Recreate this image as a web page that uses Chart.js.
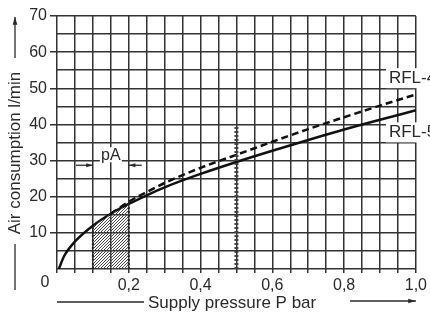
<!DOCTYPE html>
<html>
<head>
<meta charset="utf-8">
<script src="https://cdn.jsdelivr.net/npm/chart.js@4"></script>
<style>
  html, body { margin: 0; padding: 0; background: #fff; }
</style>
</head>
<body>
<canvas id="chart" width="430" height="316"></canvas>
<script>
// Values
const pressure5 = [0.005, 0.02, 0.05, 0.1, 0.15, 0.2, 0.25, 0.3, 0.4, 0.5, 0.6, 0.7, 0.8, 0.9, 1.0];
const rfl5 = [0, 3.6, 7.6, 12.0, 15.3, 18.0, 20.4, 22.6, 26.3, 29.6, 32.7, 35.7, 38.6, 41.3, 43.9];
const pressure4 = [0.15, 0.2, 0.25, 0.3, 0.4, 0.5, 0.6, 0.7, 0.8, 0.9, 1.0];
const rfl4 = [15.3, 18.6, 21.3, 23.8, 28.0, 31.6, 35.2, 38.7, 42.0, 45.2, 48.3];
const xTickLabels = ['0', '0,2', '0,4', '0,6', '0,8', '1,0'];
const yTickLabels = ['10', '20', '30', '40', '50', '60', '70'];
const pARange = [0.1, 0.2];
const checkLine = [0.5, 40];
const seriesNames = ['RFL-4', 'RFL-5'];

const FONT = "'Liberation Sans', Arial, sans-serif";
const INK = '#2a2a2a';

function toPoints(xs, ys) {
    return xs.map((x, i) => ({ x: x, y: ys[i] }));
}

// hatch area under RFL-5 between the pA limits
const hatchPts = toPoints(pressure5, rfl5).filter(p => p.x >= pARange[0] - 1e-9 && p.x <= pARange[1] + 1e-9);

function hatchPattern() {
    const c = document.createElement('canvas');
    c.width = 3; c.height = 3;
    const g = c.getContext('2d');
    g.strokeStyle = '#4a4a4a';
    g.lineWidth = 1;
    g.beginPath();
    g.moveTo(0, 3); g.lineTo(3, 0);
    g.moveTo(-1, 1); g.lineTo(1, -1);
    g.moveTo(2, 4); g.lineTo(4, 2);
    g.stroke();
    return g.createPattern(c, 'repeat');
}

function arrow(ctx, x1, y1, x2, y2, head) {
    ctx.beginPath();
    ctx.moveTo(x1, y1);
    ctx.lineTo(x2, y2);
    ctx.stroke();
    const a = Math.atan2(y2 - y1, x2 - x1);
    ctx.beginPath();
    ctx.moveTo(x2, y2);
    ctx.lineTo(x2 - head * Math.cos(a - 0.3), y2 - head * Math.sin(a - 0.3));
    ctx.lineTo(x2 - head * Math.cos(a + 0.3), y2 - head * Math.sin(a + 0.3));
    ctx.closePath();
    ctx.fill();
}

const extras = {
    id: 'extras',
    afterDatasetsDraw(chart) {
        const ctx = chart.ctx;
        const xs = chart.scales.x, ys = chart.scales.y;
        ctx.save();
        ctx.fillStyle = INK;
        ctx.strokeStyle = INK;
        ctx.lineWidth = 1.3;

        // pA dimension arrows
        const yA = ys.getPixelForValue(28.7);
        const xa = xs.getPixelForValue(pARange[0]);
        const xb = xs.getPixelForValue(pARange[1]);
        arrow(ctx, xa - 17, yA, xa, yA, 7);
        arrow(ctx, xb + 13, yA, xb, yA, 7);
        ctx.font = '16px ' + FONT;
        ctx.textAlign = 'center';
        ctx.textBaseline = 'middle';
        const pAx = (xa + xb) / 2;
        ctx.fillStyle = '#fff';
        ctx.fillRect(pAx - 11, yA - 18, 22, 15);
        ctx.fillStyle = INK;
        ctx.fillText('pA', pAx, yA - 10);

        // series labels at the right edge
        ctx.font = '17px ' + FONT;
        ctx.textAlign = 'left';
        const lx = xs.getPixelForValue(0.925);
        [[seriesNames[0], 52.8], [seriesNames[1], 37.8]].forEach(([t, v]) => {
            const y = ys.getPixelForValue(v);
            ctx.fillStyle = '#fff';
            ctx.fillRect(lx - 3, y - 10, 60, 20);
            ctx.fillStyle = INK;
            ctx.fillText(t, lx, y);
        });

        // x origin label, set left of the axis
        ctx.font = '16px ' + FONT;
        ctx.textAlign = 'center';
        ctx.fillText(xTickLabels[0], xs.getPixelForValue(0) - 12, ys.bottom + 14);

        // x title with lead line and arrow
        const ty = 303;
        ctx.font = '17px ' + FONT;
        ctx.textAlign = 'left';
        ctx.fillText('Supply pressure P bar', 148, ty);
        ctx.beginPath();
        ctx.moveTo(xs.left, ty - 1);
        ctx.lineTo(144, ty - 1);
        ctx.stroke();
        arrow(ctx, 350, ty - 2, xs.right, ty - 2, 8);

        // y title, rotated, with lines and arrow
        ctx.save();
        ctx.translate(15, 153);
        ctx.rotate(-Math.PI / 2);
        ctx.textAlign = 'center';
        ctx.font = '17px ' + FONT;
        ctx.fillText('Air consumption l/min', 0, 0);
        ctx.restore();
        ctx.beginPath();
        ctx.moveTo(15, 244);
        ctx.lineTo(15, 290);
        ctx.stroke();
        arrow(ctx, 15, 58, 15, 17, 8);

        ctx.restore();
    }
};

const gridColor = '#333';

new Chart(document.getElementById('chart'), {
    type: 'scatter',
    data: {
        datasets: [
            {
                data: hatchPts,
                showLine: true,
                cubicInterpolationMode: 'monotone',
                borderWidth: 0,
                pointRadius: 0,
                fill: 'origin',
                backgroundColor: hatchPattern()
            },
            {
                data: [{ x: pARange[0], y: 0 }, hatchPts[0]],
                showLine: true,
                borderColor: '#222',
                borderWidth: 2,
                borderDash: [2, 2],
                pointRadius: 0
            },
            {
                data: [{ x: pARange[1], y: 0 }, hatchPts[hatchPts.length - 1]],
                showLine: true,
                borderColor: '#222',
                borderWidth: 2,
                borderDash: [2, 2],
                pointRadius: 0
            },
            {
                data: [{ x: checkLine[0], y: 0 }, { x: checkLine[0], y: checkLine[1] }],
                showLine: true,
                borderColor: '#444',
                borderWidth: 4,
                borderDash: [2, 2],
                pointRadius: 0
            },
            {
                label: seriesNames[0],
                data: toPoints(pressure4, rfl4),
                showLine: true,
                cubicInterpolationMode: 'monotone',
                borderColor: '#111',
                borderWidth: 2.5,
                borderDash: [7, 4],
                pointRadius: 0
            },
            {
                label: seriesNames[1],
                data: toPoints(pressure5, rfl5),
                showLine: true,
                cubicInterpolationMode: 'monotone',
                borderColor: '#111',
                borderWidth: 2.5,
                pointRadius: 0
            }
        ]
    },
    options: {
        responsive: false,
        animation: false,
        devicePixelRatio: 1,
        layout: { padding: { top: 16, right: 14, left: 0, bottom: 0 } },
        plugins: { legend: { display: false }, tooltip: { enabled: false } },
        scales: {
            x: {
                type: 'linear',
                min: 0,
                max: 1,
                border: { display: false },
                grid: { color: gridColor, lineWidth: 1.5, tickLength: 4, tickColor: gridColor },
                ticks: {
                    stepSize: 0.05,
                    autoSkip: false,
                    maxRotation: 0,
                    padding: 3,
                    color: INK,
                    font: { size: 16, family: FONT },
                    callback: v => {
                        const i = Math.round(v / 0.2);
                        if (i === 0 || Math.abs(v - i * 0.2) > 1e-6) return '';
                        return xTickLabels[i];
                    }
                },
                afterFit: s => { s.height = 47; }
            },
            y: {
                type: 'linear',
                min: 0,
                max: 70,
                border: { display: false },
                grid: {
                    color: gridColor,
                    lineWidth: 1.5,
                    tickLength: 7,
                    tickColor: c => (c.tick && c.tick.value % 10 === 0 && c.tick.value > 0) ? gridColor : 'rgba(0,0,0,0)'
                },
                ticks: {
                    stepSize: 5,
                    autoSkip: false,
                    padding: 3,
                    color: INK,
                    font: { size: 16, family: FONT },
                    callback: v => {
                        if (v % 10 !== 0 || v === 0) return '';
                        return yTickLabels[v / 10 - 1];
                    }
                },
                afterFit: s => { s.width = 57; }
            }
        }
    },
    plugins: [extras]
});
</script>
</body>
</html>
